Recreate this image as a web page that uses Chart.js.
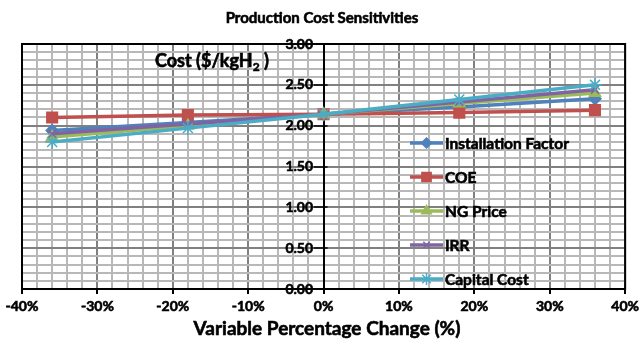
<!DOCTYPE html>
<html>
<head>
<meta charset="utf-8">
<script src="https://cdn.jsdelivr.net/npm/chart.js@4/dist/chart.umd.min.js"></script>
<style>
  html, body { margin: 0; padding: 0; background: #fff; }
  #wrap { width: 643px; height: 344px; position: relative; }
</style>
</head>
<body>
<div id="wrap"><canvas id="c"></canvas></div>
<script>
// Percentage change applied to each input variable
const pctChange = [-36, -18, 0, 18, 36];

// Resulting hydrogen production cost ($/kgH2) per sensitivity
const installationFactor = [1.94, 2.04, 2.14, 2.23, 2.33];
const coe               = [2.10, 2.13, 2.14, 2.16, 2.19];
const ngPrice           = [1.86, 2.00, 2.14, 2.27, 2.40];
const irr               = [1.90, 2.02, 2.14, 2.29, 2.44];
const capitalCost       = [1.80, 1.97, 2.14, 2.32, 2.50];

const seriesNames = ['Installation Factor', 'COE', 'NG Price', 'IRR', 'Capital Cost'];
const seriesValues = [installationFactor, coe, ngPrice, irr, capitalCost];

const chartTitle = 'Production Cost Sensitivities';
const xTitle = 'Variable Percentage Change (%)';

const FONT = 'Lato, "Open Sans", sans-serif';
const W = 'bold';
const STROKE = 0.6; // extra weight on text strokes
const colors = ['#4F81BD', '#C0504D', '#9BBB59', '#8064A2', '#4BACC6'];
const pointStyles = ['rectRot', 'rect', 'triangle', 'crossRot', 'star'];
const pointRadii = [6, 7.5, 6.5, 5.5, 7];

const datasets = seriesNames.map((name, i) => ({
  label: name,
  data: pctChange.map((x, j) => ({ x: x, y: seriesValues[i][j] })),
  borderColor: colors[i],
  backgroundColor: colors[i],
  pointBorderColor: colors[i],
  pointBackgroundColor: colors[i],
  borderWidth: 3.5,
  pointStyle: pointStyles[i],
  pointRadius: pointRadii[i],
  pointBorderWidth: 1.5,
  tension: 0,
  order: seriesNames.length - i
}));

function isMajorY(v) { return Math.round(v * 10) % 5 === 0; }
function isMajorX(v) { return Math.round(v) % 10 === 0; }

function heavyText(ctx, text, x, y) {
  ctx.fillText(text, x, y);
  ctx.lineWidth = STROKE;
  ctx.strokeStyle = ctx.fillStyle;
  ctx.strokeText(text, x, y);
}

// Titles, inner y-axis caption, plot frame, cross tick marks and legend
const decorations = {
  id: 'decorations',
  afterDraw(chart) {
    const ctx = chart.ctx;
    const a = chart.chartArea;
    const ys = chart.scales.y;
    const xs = chart.scales.x;
    ctx.save();

    // plot frame
    ctx.strokeStyle = '#000';
    ctx.lineWidth = 2;
    ctx.strokeRect(a.left, a.top, a.right - a.left, a.bottom - a.top);

    // cross tick marks on the centred value axis
    const ax = xs.getPixelForValue(0);
    ctx.lineWidth = 1.5;
    ys.ticks.forEach((t) => {
      if (!isMajorY(t.value)) return;
      const py = Math.round(ys.getPixelForValue(t.value));
      ctx.beginPath();
      ctx.moveTo(ax - 10, py);
      ctx.lineTo(ax + 4, py);
      ctx.stroke();
    });

    // chart title
    ctx.fillStyle = '#000';
    ctx.font = W + ' 15px ' + FONT;
    ctx.textAlign = 'center';
    ctx.textBaseline = 'middle';
    heavyText(ctx, chartTitle, 322, 18);

    // x-axis title
    ctx.font = W + ' 19px ' + FONT;
    heavyText(ctx, xTitle, 327, 329);

    // y-axis caption with subscript
    ctx.textAlign = 'left';
    ctx.textBaseline = 'alphabetic';
    let x = 155, y = 67;
    ctx.font = W + ' 18px ' + FONT;
    const p1 = 'Cost ($/kgH';
    heavyText(ctx, p1, x, y);
    x += ctx.measureText(p1).width;
    ctx.font = W + ' 12px ' + FONT;
    heavyText(ctx, '2', x, y + 4);
    x += ctx.measureText('2').width;
    ctx.font = W + ' 18px ' + FONT;
    heavyText(ctx, ' )', x, y);

    // legend
    const lx0 = 410, lx1 = 443, ly0 = 143, dy = 34;
    chart.data.datasets.forEach((ds, i) => {
      const ly = ly0 + i * dy;
      ctx.strokeStyle = ds.borderColor;
      ctx.lineWidth = 3.5;
      ctx.beginPath();
      ctx.moveTo(lx0, ly);
      ctx.lineTo(lx1, ly);
      ctx.stroke();
      if (Chart.helpers && Chart.helpers.drawPoint) {
        ctx.fillStyle = ds.pointBackgroundColor;
        ctx.strokeStyle = ds.pointBorderColor;
        ctx.lineWidth = ds.pointBorderWidth;
        Chart.helpers.drawPoint(ctx, {
          pointStyle: ds.pointStyle,
          radius: ds.pointRadius - 1,
          rotation: 0,
          borderWidth: ds.pointBorderWidth
        }, (lx0 + lx1) / 2, ly);
      }
      ctx.fillStyle = '#000';
      ctx.font = W + ' 15.5px ' + FONT;
      ctx.textAlign = 'left';
      ctx.textBaseline = 'middle';
      heavyText(ctx, ds.label, 445, ly + 1);
    });
    ctx.restore();
  }
};

new Chart(document.getElementById('c'), {
  type: 'line',
  data: { datasets: datasets },
  plugins: [decorations],
  options: {
    responsive: true,
    maintainAspectRatio: false,
    animation: false,
    layout: { padding: { left: 22, right: 14, top: 44, bottom: 0 } },
    plugins: {
      legend: { display: false },
      title: { display: false },
      tooltip: { enabled: false }
    },
    scales: {
      x: {
        type: 'linear',
        min: -40,
        max: 40,
        afterFit(scale) { scale.height = 55; },
        ticks: {
          stepSize: 2,
          autoSkip: false,
          maxRotation: 0,
          padding: 4,
          color: '#000',
          textStrokeColor: '#000',
          textStrokeWidth: STROKE,
          font: { family: FONT, size: 14, weight: W },
          callback: (v) => isMajorX(v) ? v + '%' : ''
        },
        grid: {
          color: (c) => isMajorX(c.tick.value) ? '#808080' : '#b8b8b8',
          lineWidth: 2,
          tickLength: 5,
          tickColor: (c) => isMajorX(c.tick.value) ? '#000' : 'rgba(0,0,0,0)'
        },
        border: { display: true, color: '#000', width: 2 }
      },
      y: {
        type: 'linear',
        position: { x: 0 },
        min: 0,
        max: 3,
        ticks: {
          stepSize: 0.1,
          autoSkip: false,
          color: '#000',
          textStrokeColor: '#000',
          textStrokeWidth: STROKE,
          font: { family: FONT, size: 14, weight: W },
          // trailing spaces keep the labels clear of the centred axis
          callback: (v) => isMajorY(v) ? Number(v).toFixed(2) + '\u2002\u2005' : ''
        },
        grid: {
          color: (c) => isMajorY(c.tick.value) ? '#808080' : '#b8b8b8',
          lineWidth: 2,
          drawTicks: false
        },
        border: { display: true, color: '#000', width: 2 }
      }
    }
  }
});
</script>
</body>
</html>
